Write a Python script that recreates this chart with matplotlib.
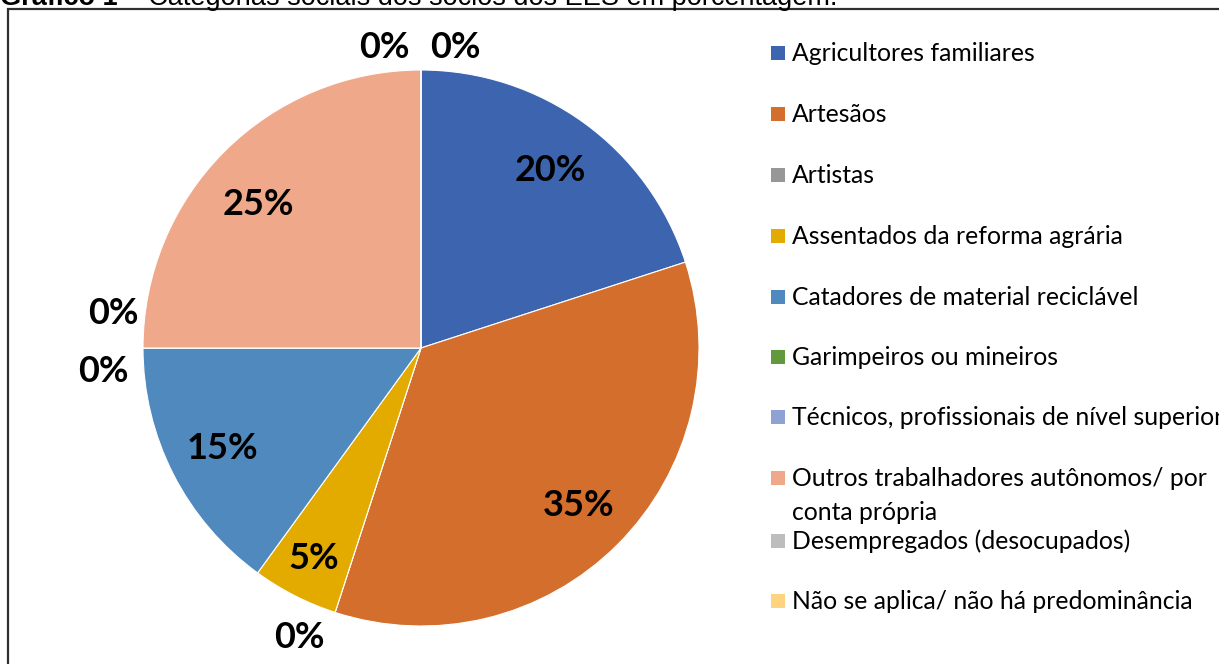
import matplotlib.pyplot as plt
from matplotlib.patches import Rectangle
import numpy as np

# Data
categories = [
    'Agricultores familiares',
    'Artesãos',
    'Artistas',
    'Assentados da reforma agrária',
    'Catadores de material reciclável',
    'Garimpeiros ou mineiros',
    'Técnicos, profissionais de nível superior',
    'Outros trabalhadores autônomos/ por\nconta própria',
    'Desempregados (desocupados)',
    'Não se aplica/ não há predominância',
]
percentages = [20, 35, 0, 5, 15, 0, 0, 25, 0, 0]
colors = ['#3D65AF', '#D46E2C', '#979797', '#E3AA00', '#4F89BE',
          '#62993E', '#8EA3D4', '#F0A88A', '#BDBDBD', '#FFD380']
title_bold = 'Gráfico 1'
title_rest = ' – Categorias sociais dos sócios dos EES em porcentagem.'

W, H = 1219, 664
CX, CY, R = 421, 348, 278

fig = plt.figure(figsize=(W / 100, H / 100), dpi=100)
ax = fig.add_axes([0, 0, 1, 1])

wedges, _ = ax.pie(percentages, colors=colors, startangle=90, counterclock=False,
                   radius=1.0, wedgeprops=dict(edgecolor='white', linewidth=0.8))
ax.set_aspect('auto')
ax.set_xlim(-CX / R, (W - CX) / R)
ax.set_ylim(-(H - CY) / R, CY / R)
ax.axis('off')

# label placement: radial distance and pixel offset (zero slices sit outside)
label_style = {
    0: (0.79, 0, 0),
    1: (0.80, 0, 0),
    2: (1.08, -29, -4),
    3: (0.85, 0, 0),
    4: (0.80, 0, 0),
    5: (1.08, -17, -24),
    6: (1.08, -7, 34),
    7: (0.79, -7, -12),
    8: (1.08, -37, 0),
    9: (1.08, 34, 0),
}
for i, (w, p) in enumerate(zip(wedges, percentages)):
    ang = np.deg2rad((w.theta1 + w.theta2) / 2)
    dist, ox, oy = label_style[i]
    x = dist * np.cos(ang) + ox / R
    y = dist * np.sin(ang) + oy / R
    if p == 0 and np.sin(ang) > 0.9:
        y = 1.08
    ax.text(x, y, f'{p}%', ha='center', va='center', fontsize=26,
            fontweight='bold', family='Lato', color='black')

# Legend drawn by hand to mimic the Excel slot layout
leg_y = [53, 114, 175, 236, 297, 357, 417, 478, 541, 601]
line_step = 34
for lab, col, yy in zip(categories, colors, leg_y):
    fig.patches.append(Rectangle((771 / W, 1 - (yy + 7) / H), 14 / W, 14 / H,
                                 transform=fig.transFigure, facecolor=col,
                                 edgecolor='none'))
    for k, line in enumerate(lab.split('\n')):
        fig.text(792 / W, 1 - (yy + 8 + k * line_step) / H, line, ha='left',
                 va='baseline', fontsize=17.8, family='Lato', color='black')

# Frame
fig.patches.append(Rectangle((8 / W, -0.05), 1.1, 1 - 9 / H + 0.05,
                             transform=fig.transFigure, facecolor='none',
                             edgecolor='#303030', linewidth=1.6))

# Title (cut off at top edge, as in the source)
t = fig.text(0 / W, 1 - 5 / H, title_bold, ha='left', va='baseline', fontsize=19.5,
             fontweight='bold', family='Liberation Sans')
fig.canvas.draw()
bb = t.get_window_extent()
fig.text(bb.x1 / W, 1 - 5 / H, title_rest, ha='left', va='baseline', fontsize=19.5,
         family='Liberation Sans')

fig.savefig('out.png', dpi=100)
